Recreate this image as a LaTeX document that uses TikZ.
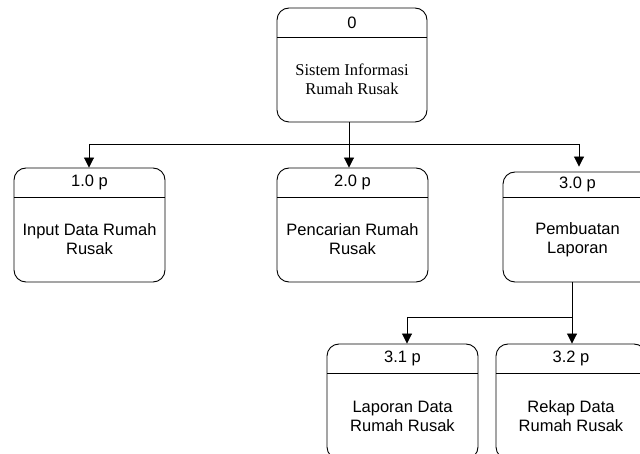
\documentclass[tikz,border=0pt]{standalone}
\usepackage{fontspec}
\setmainfont{Liberation Sans}
\newfontfamily\dfdserif{Liberation Serif}
\usetikzlibrary{arrows.meta,fit,calc}

\tikzset{
  procbox/.style={draw=black, line width=0.9pt, rounded corners=12pt, inner sep=0pt},
  divline/.style={draw=black, line width=0.9pt},
  hdr/.style={font=\fontsize{16.5}{19}\selectfont, inner sep=0pt},
  bodytext/.style={font=\fontsize{16.5}{19}\selectfont, align=center, inner sep=0pt},
  wire/.style={draw=black, line width=0.9pt},
  flow/.style={wire, -{Triangle[length=10pt,width=10pt]}},
}

% process box: name, left, top, right, bottom, divider y, id, description
\newcommand\dfdproc[8]{%
  \node[procbox, fit={(#2,#3) (#4,#5)}] (#1) {};
  \draw[divline] (#2,#6) -- (#4,#6);
  \node[hdr] (#1-id) at ($(#2,#3)!0.5!(#4,#6)$) {#7};
  \node[bodytext] (#1-text) at ($(#2,#6)!0.5!(#4,#5)$) {#8};
}

\begin{document}
\begin{tikzpicture}[x=1pt,y=-1pt]
  \clip (0,0) rectangle (640,454);

  \dfdproc{p0}{277}{8}{427}{122}{37}{0}{{\dfdserif Sistem Informasi}\\{\dfdserif Rumah Rusak}}
  \dfdproc{p1}{14}{168}{165}{282}{197}{1.0 p}{Input Data Rumah\\Rusak}
  \dfdproc{p2}{277}{168}{428}{282}{197}{2.0 p}{Pencarian Rumah\\Rusak}
  \dfdproc{p3}{503}{172}{652}{282}{197}{3.0 p}{Pembuatan\\Laporan}
  \dfdproc{p31}{327}{344}{478}{459}{373}{3.1 p}{Laporan Data\\Rumah Rusak}
  \dfdproc{p32}{496}{344}{646}{459}{373}{3.2 p}{Rekap Data\\Rumah Rusak}

  % branch lines
  \coordinate (busA) at (0,144);
  \coordinate (busB) at (0,317);
  \coordinate (xa0) at (349,0);
  \coordinate (xa1) at (89,0);
  \coordinate (xa3) at (579,0);
  \coordinate (xb0) at (572,0);
  \coordinate (xb1) at (407,0);

  \draw[wire] (p0.south -| xa0) -- (xa0 |- busA);
  \draw[wire] (xa1 |- busA) -- (xa3 |- busA);
  \draw[flow] (xa1 |- busA) -- (xa1 |- p1.north);
  \draw[flow] (xa0 |- busA) -- (xa0 |- p2.north);
  \draw[flow, shorten >=5pt] (xa3 |- busA) -- (xa3 |- p3.north);

  \draw[wire] (p3.south -| xb0) -- (xb0 |- busB);
  \draw[wire] (xb1 |- busB) -- (xb0 |- busB);
  \draw[flow] (xb1 |- busB) -- (xb1 |- p31.north);
  \draw[flow] (xb0 |- busB) -- (xb0 |- p32.north);
\end{tikzpicture}
\end{document}
